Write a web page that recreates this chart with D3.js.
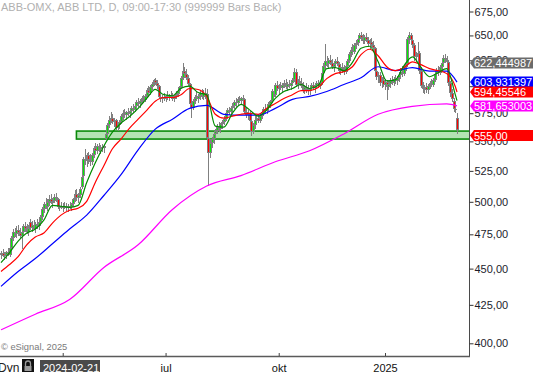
<!DOCTYPE html>
<html><head><meta charset="utf-8">
<script src="https://cdn.jsdelivr.net/npm/d3@7"></script>
<style>body{margin:0;background:#fff;overflow:hidden}svg{display:block;font-family:"Liberation Sans",Arial,sans-serif}</style>
</head><body><svg id="c" width="533" height="372"></svg>
<script>
const title = "ABB-OMX, ABB LTD, D, 09:00-17:30 (999999 Bars Back)";
const opens = [
460,461,459,460,462,460,465,472,477,475,
478,476,474,477,481,479,477,484,480,482,
479,483,481,484,488,494,498,496,500,502,
499,501,504,502,496,497,495,497,496,495,
497,496,498,502,506,503,505,512,521,535,
533,538,534,532,538,544,542,546,543,545,
544,552,556,564,569,571,567,569,562,564,
567,572,575,573,576,574,577,580,578,582,
585,583,586,589,587,591,596,594,599,602,
606,603,600,590,588,590,588,591,589,592,
590,588,591,593,595,599,608,615,612,608,
602,583,580,586,590,588,591,594,590,594,
593,553,540,549,552,556,559,563,561,565,
567,570,575,578,576,580,582,585,584,588,
586,589,588,576,573,575,568,558,564,569,
571,568,572,576,579,577,580,583,586,595,
592,601,597,600,598,601,603,599,602,600,
603,606,614,601,605,603,600,596,599,597,
595,598,601,598,600,603,600,603,613,619,
624,621,625,622,618,621,624,621,615,618,
616,614,619,624,631,635,633,640,642,646,
650,647,644,648,645,641,643,640,637,615,
609,611,603,606,601,604,599,602,605,603,
607,605,608,611,614,612,618,621,646,650,
645,640,628,630,632,615,600,597,599,596,
600,603,601,606,612,615,613,618,622,627,
625,623,603,594,586,579,571];
const highs = [
463,464,462,463,465,467,474,479,480,481,
482,480,478,483,484,483,482,487,485,486,
484,487,485,490,496,500,503,502,505,506,
503,506,507,503,499,500,499,500,499,498,
500,499,503,509,510,507,512,522,537,543,
540,541,539,540,546,549,548,549,547,548,
547,558,566,572,576,574,571,570,566,569,
574,578,579,577,580,579,582,583,584,587,
589,588,591,592,593,598,600,601,604,607,
608,606,601,594,592,594,592,595,593,595,
594,592,595,597,600,610,622,618,616,611,
603,587,588,592,595,593,596,597,596,598,
597,555,552,554,558,561,565,567,566,569,
572,577,580,581,582,584,587,589,590,591,
590,592,589,580,578,577,570,566,572,573,
574,574,578,581,583,582,585,587,597,600,
603,605,602,604,603,606,607,604,606,605,
608,617,616,607,610,608,604,601,603,601,
600,603,604,602,605,606,605,615,622,641,
629,627,630,626,624,626,628,623,620,622,
620,621,626,633,638,641,642,645,649,653,
654,651,650,652,648,646,647,644,638,620,
614,614,609,610,607,606,605,608,610,609,
611,610,614,617,619,620,624,648,654,653,
649,642,633,643,634,618,604,601,603,602,
605,607,608,614,617,619,620,624,630,631,
629,625,605,597,589,583,575];
const lows = [
457,458,456,457,459,458,463,470,473,472,
474,472,464,475,477,475,474,478,477,478,
476,479,478,482,486,491,494,493,497,498,
495,499,500,494,493,494,492,494,493,492,
494,493,496,500,501,499,503,510,520,530,
528,531,529,530,536,540,539,541,539,541,
540,551,555,562,566,565,563,560,559,561,
565,569,571,569,572,571,574,575,576,579,
581,580,583,584,585,589,592,592,596,600,
601,597,588,585,584,586,585,587,586,588,
586,585,588,590,593,597,606,609,606,600,
580,571,578,583,586,584,587,588,587,588,
550,513,536,544,548,552,556,558,557,561,
564,568,572,573,574,577,579,581,582,584,
583,585,574,571,569,566,555,556,561,565,
566,566,570,573,575,574,577,580,584,590,
590,595,593,596,594,598,597,595,598,596,
600,604,599,597,601,598,594,593,594,592,
592,595,596,594,597,598,597,601,610,616,
618,616,620,616,614,617,619,612,611,613,
611,612,617,622,628,630,631,636,639,642,
644,641,641,643,638,636,638,634,612,606,
603,600,598,599,596,587,596,598,601,600,
602,601,604,607,609,610,615,620,641,643,
637,624,623,627,612,598,594,593,594,593,
597,599,599,604,608,610,611,615,619,622,
620,600,590,585,576,575,556];
const closes = [
461,459,460,462,460,465,472,477,475,478,
476,474,477,481,479,477,480,480,482,479,
483,481,484,488,494,498,496,500,502,499,
501,504,502,496,497,495,497,496,495,497,
496,498,502,506,503,505,510,520,535,533,
538,534,532,538,544,542,546,543,545,544,
546,556,564,569,571,567,569,562,564,567,
572,575,573,576,574,577,580,578,582,585,
583,586,589,587,591,596,594,599,602,606,
603,600,590,588,590,588,591,589,592,590,
588,591,593,595,599,608,615,612,608,602,
583,580,586,590,588,591,594,590,594,592,
553,540,549,552,556,559,563,561,565,567,
570,575,578,576,580,582,585,584,588,586,
589,588,576,573,575,568,558,564,569,571,
568,572,576,579,577,580,583,586,595,592,
601,597,600,598,601,603,599,602,600,603,
606,614,601,605,603,600,596,599,597,595,
598,601,598,600,603,600,603,613,619,624,
621,625,622,618,621,624,621,615,618,616,
614,619,624,631,635,633,640,642,646,650,
647,644,648,645,641,643,640,637,615,609,
611,603,606,601,604,599,602,605,603,607,
605,608,611,614,612,618,621,646,650,645,
640,628,630,632,615,600,597,599,596,600,
603,601,606,612,615,613,618,622,627,625,
623,603,594,588,579,578,560];
// moving averages (green/red every 5 bars, blue every 10, magenta every 20, plus last bar)
const greenMA = [454.3,461.5,470,476,479,485.8,497.2,496.5,495.7,497.2,
515.5,531.8,546,558,566,572,579.4,588.5,597,592,
591,598,600,594,592,563.4,562.5,575,583,578,
572.3,578,588.5,595,597.8,601.6,597.8,600.6,616.8,617.8,
614.9,622.9,637,639,623.5,605,606,619.6,628.4,618,
609,612.9,616.8,592,586.5];
const redMA = [448,452.9,458.6,467.2,473,476,483.5,489.6,493.4,495,
500.4,515.5,529.3,543.6,552,561.6,569.6,577.6,586,589.4,
589.4,592,597.8,596.9,590.5,574,570.5,572.3,574,574.9,
574,579.4,583.9,588.5,592,595.9,595.9,598.7,607.2,612,
613.9,618.7,630.6,636,629.5,618.7,614.9,617.8,623.5,620.7,
616.8,614.9,612,599.7,594.5];
const blueMA = [437.6,448,457.2,468,479,489.6,505,521.9,542.7,560.7,
569.6,579.4,582.1,574,573.2,573.2,579.4,587.6,590.4,595,
601.6,608,618.7,614.9,617.8,614.5,614.5,603.9];
const magentaMA = [408.6,418.8,428.6,450.8,467.2,494,512.6,521.1,532.6,541.9,
556.5,574,581.2,583.5,581.7];
const supportLow = 552, supportHigh = 559, supportStart = 44;
const yTicks = [400,425,450,475,500,525,550,575,600,625,650,675];
const xTickIdx = [36,96,162,224];
const xTickLabels = ["","jul","okt","2025"];   // April label is hidden under the date box
const tagLabels = ["622,444987","603,931397","594,45546","581,653003","555,00"];
const tagValues = [622.444987,603.931397,594.45546,581.653003,555];
const tagColors = ["#6b6b6b","#0000ff","#ff0000","#ff00ff","#ff0000"];

const N = closes.length;
const AX = 469, AY = 356;
const svg = d3.select("#c");
const x = d3.scaleLinear().domain([0, N-1]).range([1, 457]);
const y = d3.scaleLog().domain([400, 675]).range([343.3, 11.5]);

svg.append("defs").append("clipPath").attr("id","clip")
  .append("rect").attr("x",0).attr("y",0).attr("width",AX).attr("height",AY);

svg.append("text").attr("x",1).attr("y",11).attr("font-size",11)
  .attr("fill","#b0b0b0").text(title);

const plot = svg.append("g").attr("clip-path","url(#clip)");

plot.append("rect")
  .attr("x", x(supportStart)).attr("y", y(supportHigh))
  .attr("width", AX - x(supportStart) + 3).attr("height", y(supportLow) - y(supportHigh))
  .attr("fill","#b3e3b3").attr("stroke","#0a8a0a").attr("stroke-width",1.6);

const data = closes.map((c,i)=>({i, o:opens[i], h:highs[i], l:lows[i], c}));
const cg = plot.append("g").attr("shape-rendering","crispEdges");
data.forEach(d=>{
  const cx = Math.round(x(d.i));
  cg.append("line").attr("x1",cx+0.5).attr("x2",cx+0.5)
    .attr("y1",y(d.h)).attr("y2",y(d.l)).attr("stroke","#808080").attr("stroke-width",1);
  const top = Math.min(y(d.o), y(d.c)), bot = Math.max(y(d.o), y(d.c));
  const hgt = Math.max(1, bot-top);
  cg.append("rect").attr("x",cx-1).attr("y",top).attr("width",3).attr("height",hgt).attr("fill","#808080");
  if (hgt > 2 && d.c !== d.o) {
    cg.append("rect").attr("x",cx).attr("y",top+1).attr("width",1).attr("height",hgt-2)
      .attr("fill", d.c > d.o ? "#00f000" : "#ff0000");
  }
});

function idxs(step, n){ const a = d3.range(0, n*step, step).slice(0, n-1); a.push(N-1); return a; }
const line = d3.line().x(d=>x(d[0])).y(d=>y(d[1])).curve(d3.curveMonotoneX);
const mas = [
  [magentaMA, 20, "#ff00ff"],
  [blueMA, 10, "#0000ff"],
  [redMA, 5, "#ff0000"],
  [greenMA, 5, "#008c00"]
];
mas.forEach(([vals, step, col])=>{
  const ix = idxs(step, vals.length);
  plot.append("path").datum(vals.map((v,k)=>[ix[k], v]))
    .attr("d", line).attr("fill","none").attr("stroke",col).attr("stroke-width",1.2);
});

// axes frame
svg.append("line").attr("x1",AX+0.5).attr("x2",AX+0.5).attr("y1",0).attr("y2",AY+1)
  .attr("stroke","#4a4a4a").attr("stroke-width",1);
svg.append("line").attr("x1",0).attr("x2",AX+1).attr("y1",AY+0.5).attr("y2",AY+0.5)
  .attr("stroke","#5a5a5a").attr("stroke-width",1.5);

const yAxis = d3.axisRight(y).tickValues(yTicks).tickSize(4).tickPadding(1)
  .tickFormat(d => d3.format(".2f")(d).replace(".", ","));
svg.append("g").attr("transform",`translate(${AX+0.5},0)`).call(yAxis)
  .call(g=>g.select(".domain").remove())
  .call(g=>g.selectAll(".tick line").attr("stroke","#333"))
  .call(g=>g.selectAll(".tick text").attr("font-size",11).attr("fill","#1c1c2c")
    .attr("font-family",'"Liberation Sans",Arial,sans-serif'));

const xAxis = d3.axisBottom(x).tickValues(xTickIdx).tickSize(-3).tickPadding(8)
  .tickFormat((d,i)=>xTickLabels[i]);
svg.append("g").attr("transform",`translate(0,${AY})`).call(xAxis)
  .call(g=>g.select(".domain").remove())
  .call(g=>g.selectAll(".tick line").attr("stroke","#444"))
  .call(g=>g.selectAll(".tick text").attr("font-size",11).attr("fill","#111")
    .attr("font-family",'"Liberation Sans",Arial,sans-serif'));

// price tags
tagValues.forEach((v,k)=>{
  const yc = y(v);
  svg.append("path")
    .attr("d",`M${AX+1},${yc} L${AX+5},${yc-5.5} L533,${yc-5.5} L533,${yc+5.5} L${AX+5},${yc+5.5} Z`)
    .attr("fill", tagColors[k]);
  svg.append("text").attr("x",AX+5).attr("y",yc).attr("dy","0.36em")
    .attr("font-size",11).attr("fill","#fff").text(tagLabels[k]);
});

// footer
svg.append("text").attr("x",1).attr("y",350).attr("font-size",9.3).attr("fill","#7a7a7a").text("© eSignal, 2025");
svg.append("text").attr("x",-2).attr("y",372).attr("font-size",12).attr("fill","#222").text("Dyn");
svg.append("rect").attr("x",22).attr("y",359).attr("width",12).attr("height",13).attr("fill","#111");
svg.append("path").attr("d","M25.5,366 v-2.5 a2.5,2.5 0 0 1 5,0 v2.5").attr("fill","none").attr("stroke","#9a9a9a").attr("stroke-width",1.3);
svg.append("rect").attr("x",24.5).attr("y",366).attr("width",7).attr("height",5).attr("fill","#9a9a9a");
svg.append("rect").attr("x",40).attr("y",360).attr("width",60).attr("height",12).attr("fill","#4a4a4a");
svg.append("text").attr("x",43).attr("y",372).attr("font-size",11).attr("fill","#fff").text("2024-02-21");
</script></body></html>
